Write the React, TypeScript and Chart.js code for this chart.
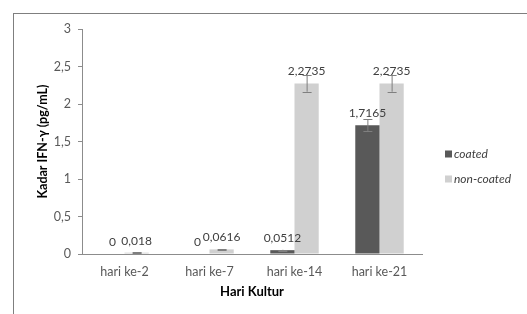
import React, { useEffect, useRef } from "react";
import { Chart, registerables } from "chart.js";

Chart.register(...registerables);

const categories = ["hari ke-2", "hari ke-7", "hari ke-14", "hari ke-21"];
const coated = [0, 0, 0.0512, 1.7165];
const nonCoated = [0.018, 0.0616, 2.2735, 2.2735];
const coatedErr = [0, 0, 0.005, 0.08];
const nonCoatedErr = [0.004, 0.005, 0.11, 0.11];
const seriesNames = ["coated", "non-coated"];
const yTicks = [0, 0.5, 1, 1.5, 2, 2.5, 3];

const FONT = "Lato, 'Open Sans', sans-serif";
const fmt = (v: number) => String(v).replace(".", ",");

const errorBarsAndLabels = {
  id: "errorBarsAndLabels",
  afterDatasetsDraw(chart: any) {
    const ctx = chart.ctx;
    const y = chart.scales.y;
    const errs = [coatedErr, nonCoatedErr];
    chart.data.datasets.forEach((ds: any, di: number) => {
      const meta = chart.getDatasetMeta(di);
      meta.data.forEach((bar: any, i: number) => {
        const v = ds.data[i];
        const e = errs[di][i];
        ctx.save();
        if (e > 0) {
          const yt = y.getPixelForValue(v + e);
          const yb = y.getPixelForValue(v - e);
          ctx.strokeStyle = "#7f7f7f";
          ctx.lineWidth = 1;
          ctx.beginPath();
          ctx.moveTo(bar.x + 0.5, yt);
          ctx.lineTo(bar.x + 0.5, yb);
          ctx.moveTo(bar.x - 4, Math.round(yt) + 0.5);
          ctx.lineTo(bar.x + 5, Math.round(yt) + 0.5);
          ctx.moveTo(bar.x - 4, Math.round(yb) + 0.5);
          ctx.lineTo(bar.x + 5, Math.round(yb) + 0.5);
          ctx.stroke();
        }
        ctx.fillStyle = "#404040";
        ctx.font = `12px ${FONT}`;
        ctx.textAlign = "center";
        ctx.textBaseline = "middle";
        ctx.fillText(fmt(v), bar.x, bar.y - 12);
        ctx.restore();
      });
    });
  },
};

const customLegend = {
  id: "customLegend",
  afterDraw(chart: any) {
    const ctx = chart.ctx;
    const area = chart.chartArea;
    const x0 = area.right + 23;
    const y0 = area.top + 125;
    chart.data.datasets.forEach((ds: any, i: number) => {
      const yc = y0 + i * 25;
      ctx.save();
      ctx.fillStyle = ds.backgroundColor;
      ctx.fillRect(x0, yc - 3.5, 7, 7);
      ctx.fillStyle = "#404040";
      ctx.font = `italic 12px ${FONT}`;
      ctx.textAlign = "left";
      ctx.textBaseline = "middle";
      ctx.fillText(ds.label, x0 + 9, yc);
      ctx.restore();
    });
  },
};

export default function App() {
  const ref = useRef<HTMLCanvasElement | null>(null);
  useEffect(() => {
    if (!ref.current) return;
    const chart = new Chart(ref.current, {
      type: "bar",
      data: {
        labels: categories,
        datasets: [
          { label: seriesNames[0], data: coated, backgroundColor: "#595959" },
          { label: seriesNames[1], data: nonCoated, backgroundColor: "#d0d0d0" },
        ],
      },
      options: {
        responsive: false,
        animation: false,
        layout: { padding: { left: 13, top: 29, right: 105, bottom: 0 } },
        datasets: { bar: { categoryPercentage: 0.57, barPercentage: 1 } },
        plugins: { legend: { display: false }, tooltip: { enabled: false } },
        scales: {
          x: {
            grid: { display: false, drawTicks: false },
            border: { display: true, color: "#8c8c8c" },
            ticks: { color: "#595959", font: { family: FONT, size: 12.5 }, padding: 10 },
            title: {
              display: true,
              text: "Hari Kultur",
              color: "#000000",
              font: { family: FONT, size: 13, weight: "bold" },
              padding: { top: 0, bottom: 14 },
            },
            afterFit: (s: any) => {
              s.height = 60;
            },
          },
          y: {
            min: 0,
            max: 3,
            afterBuildTicks: (s: any) => {
              s.ticks = yTicks.map((v) => ({ value: v }));
            },
            grid: {
              display: true,
              drawOnChartArea: false,
              drawTicks: true,
              tickLength: 4,
              color: "#8c8c8c",
            },
            border: { display: true, color: "#8c8c8c" },
            ticks: {
              color: "#595959",
              font: { family: FONT, size: 12.5 },
              padding: 7,
              callback: (v: any) => fmt(Number(v)),
            },
            title: {
              display: true,
              text: "Kadar IFN-γ (pg/mL)",
              color: "#000000",
              font: { family: FONT, size: 12.5, weight: "bold" },
              padding: { top: 22, bottom: 0 },
            },
            afterFit: (s: any) => {
              s.width = 69;
            },
          },
        },
      },
      plugins: [errorBarsAndLabels, customLegend],
    });
    return () => chart.destroy();
  }, []);

  return (
    <div
      style={{
        position: "fixed",
        left: 0,
        top: 0,
        width: 527,
        height: 314,
        overflow: "hidden",
        background: "#ffffff",
      }}
    >
      <div
        style={{
          position: "absolute",
          left: 13,
          top: 13,
          width: 700,
          height: 500,
          border: "1px solid #7f7f7f",
          boxSizing: "border-box",
        }}
      />
      <canvas
        ref={ref}
        width={527}
        height={314}
        style={{ position: "absolute", left: 0, top: 0, width: 527, height: 314 }}
      />
    </div>
  );
}
